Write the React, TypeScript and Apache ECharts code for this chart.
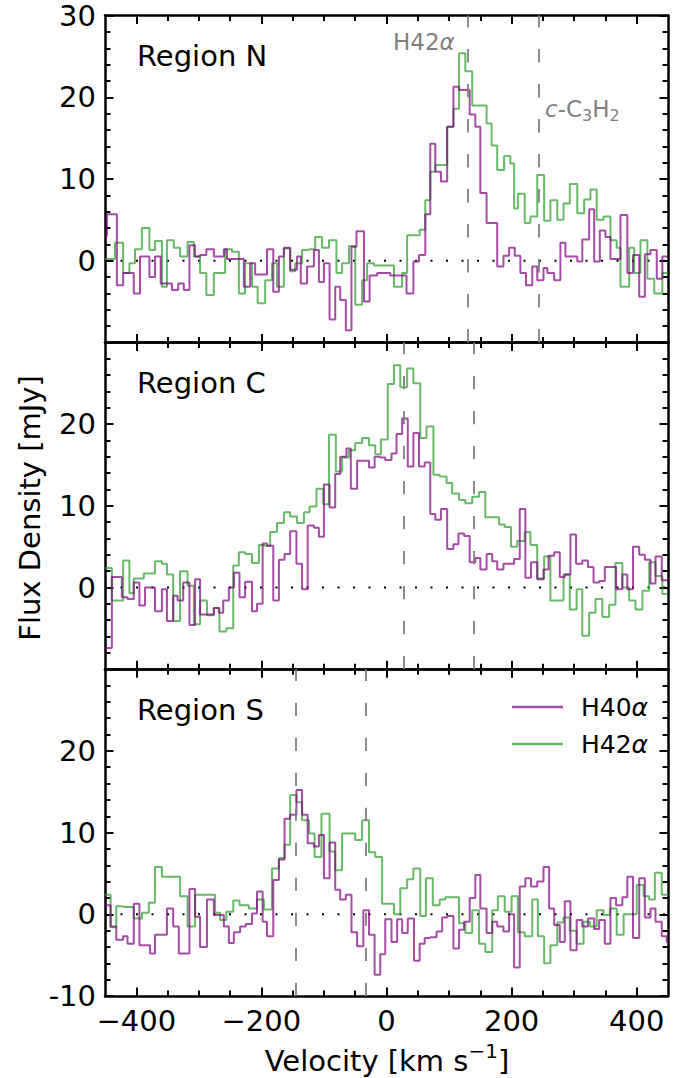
import React, { useEffect, useRef } from 'react';
import * as echarts from 'echarts';

type Pt = [number, number];

// Each pair: [velocity at the start of the channel (km/s), flux density (mJy)]
const northH40: Pt[] = [
  [-450, 3], [-447, 5.7], [-431, -3], [-421, -1.5], [-404, -4], [-394, 0.5], [-379, -2], [-370, 0.5],
  [-361, -2.8], [-343, -3.6], [-333, -2.8], [-324, -3.6], [-315, 1.9], [-306, 0.5], [-298, 0.7], [-288, 1.4],
  [-276, 0.5], [-260, 1.4], [-255, 0.2], [-228, -3.2], [-218, -0.3], [-210, -1.7], [-191, 1.4], [-181, -3.8],
  [-172, 0.5], [-164, 1.6], [-154, -1.1], [-143, 0.5], [-137, -2.8], [-127, -0.7], [-116, 1.3], [-108, -2.6],
  [-100, -0.3], [-91, -7.2], [-82, -3.2], [-74, -4.8], [-65, -8.5], [-56, 1.7], [-48, 3.6], [-36, -5],
  [-27, -1.8], [-15, -1.5], [6, -1.8], [32, -4], [43, -0.1], [52, 0.7], [62, 5.7], [70, 14.3],
  [78, 10.9], [87, 9.7], [97, 16.4], [107, 21.3], [116, 20.9], [133, 17.9], [142, 16.4], [150, 8.3],
  [160, 4.6], [177, -0.7], [187, 0.6], [196, 1.6], [205, 0.6], [214, -1.5], [223, -3], [233, -0.7],
  [241, -2.4], [251, -0.9], [257, -1.5], [268, -2.4], [278, 2.2], [286, 0.5], [305, -0.1], [313, 2.6],
  [324, 6.3], [332, -0.1], [341, 3.7], [350, 2.9], [358, 0.2], [374, 5.6], [385, -1.5], [394, 0.7],
  [404, -4.4], [413, 0.8], [422, 1.3], [432, -2.2], [441, 0.5],
];

const northH42: Pt[] = [
  [-450, 0.2], [-434, 2.2], [-421, -1.5], [-411, -0.3], [-402, 1.4], [-391, 4], [-379, 1.3], [-370, 2.4],
  [-359, -3.2], [-351, 2.5], [-340, 1.6], [-330, 0.5], [-318, 2.3], [-308, 0.5], [-298, -1.5], [-288, -4.2],
  [-276, -1.5], [-258, 1.4], [-247, 1.1], [-236, -4], [-226, -0.3], [-215, -3.2], [-206, -5.2], [-194, -2.4],
  [-183, -0.3], [-175, -3.2], [-164, 1.5], [-154, -1.3], [-146, -0.3], [-135, 1.3], [-124, 1.4], [-114, 2.9],
  [-103, 1.6], [-92, 2.5], [-80, -1.5], [-71, -0.3], [-60, 1.8], [-50, -5.4], [-39, -2.4], [-31, -0.3],
  [-20, -0.6], [12, -3.2], [25, -1.5], [33, 3.1], [53, 3.8], [62, 7.4], [70, 10.9], [78, 11.7],
  [97, 16.4], [107, 18.6], [116, 25.4], [126, 23.2], [137, 19], [160, 16.8], [168, 14.1], [177, 11.1],
  [188, 12.8], [198, 11.9], [204, 6.4], [210, 8.2], [221, 4.6], [230, 5.4], [241, 10.5], [252, 4.9],
  [262, 7.4], [273, 5], [283, 7], [293, 9.4], [305, 5.8], [316, 7.5], [326, 8.7], [336, 5],
  [347, 5.4], [358, 2.5], [368, 1.6], [374, -3.2], [388, 1.6], [396, -1.5], [406, 2.5], [417, -2.2],
  [428, -4], [441, -1.5],
];

const centralH40: Pt[] = [
  [-450, -7.4], [-439, 1.3], [-423, -1.2], [-414, -1.4], [-404, 0.6], [-395, -2.2], [-386, 0], [-370, -2.9],
  [-359, -0.2], [-351, -4.1], [-341, -1], [-334, -1.6], [-325, 0.6], [-315, -4.6], [-306, 1], [-298, -3.3],
  [-276, -2.5], [-268, -3.1], [-261, -1.6], [-252, 0], [-244, 1.8], [-235, -1.2], [-226, 0.7], [-215, -2.9],
  [-207, -2], [-198, 5.4], [-191, 5.1], [-181, -1.6], [-172, 3.4], [-163, 4.1], [-154, 6.9], [-144, 2.9],
  [-135, -0.2], [-126, 7.6], [-116, 7.3], [-108, 6.2], [-100, 12.6], [-91, 9.8], [-82, 13.9], [-74, 16],
  [-64, 17], [-57, 12.1], [-47, 15.5], [-28, 14.7], [-19, 16], [-10, 15.9], [-2, 15.6], [8, 16.4],
  [16, 18.8], [25, 20.7], [34, 14.8], [43, 18.9], [52, 14.8], [61, 15.3], [70, 9], [78, 8.3],
  [87, 9.6], [97, 4.7], [107, 5.3], [115, 6.6], [124, 6.3], [133, 3.1], [142, 3.6], [150, 2.2],
  [160, 4.1], [169, 3.2], [177, 2.2], [187, 2.9], [204, 3.5], [213, 9.6], [222, 1.2], [231, 3.1],
  [241, 1], [251, 2.2], [259, 3.9], [268, 4.3], [277, 1.3], [285, 1.6], [294, 6.5], [303, 2.9],
  [313, 3.3], [322, 2.5], [331, 0.6], [340, 0.8], [349, 2.5], [367, -0.2], [377, 1.6], [385, -0.2],
  [394, 5], [404, 4], [413, 3.4], [422, 0.5], [430, 3.8], [440, 0.9],
];

const centralH42: Pt[] = [
  [-450, 2.4], [-439, -1.6], [-421, 3.3], [-411, -0.7], [-404, 1.1], [-388, 1.7], [-370, 3.2], [-359, 2.9],
  [-351, 1.6], [-341, -4.1], [-330, 2], [-318, 0.2], [-308, -4.5], [-298, -1.6], [-287, -3.4], [-276, -2.5],
  [-267, -5.4], [-256, -5], [-245, 2.7], [-236, 4.3], [-226, 4.1], [-215, 3], [-204, 5.2], [-196, 5.1],
  [-186, 6.8], [-175, 7.9], [-164, 9.2], [-154, 8.7], [-143, 7.9], [-132, 9.2], [-123, 9.9], [-112, 12.1],
  [-101, 10.2], [-92, 18.7], [-81, 14.2], [-71, 15.9], [-60, 16.8], [-50, 17.7], [-39, 18.3], [-28, 17.4],
  [-18, 16.3], [-9, 18.1], [2, 24.9], [12, 27.2], [22, 24.5], [33, 26.8], [43, 25], [54, 18.3],
  [64, 19.7], [75, 13.8], [85, 13.6], [96, 12.8], [105, 11.5], [116, 10.7], [126, 10.3], [137, 11.1],
  [148, 11.7], [158, 8.6], [180, 7.7], [189, 7.4], [199, 5], [209, 5.7], [221, 6.8], [230, 5.2],
  [241, 1.1], [252, 3.8], [262, -1.6], [283, 1.6], [293, -2.7], [304, -0.2], [313, -5.9], [324, -3.1],
  [334, -1.4], [345, -3.6], [356, -2.1], [366, 3], [377, 0], [388, -1.6], [398, -2.7], [409, -0.4],
  [420, 3.1], [430, 1.4], [441, -0.8],
];

const southH40: Pt[] = [
  [-450, 1.1], [-441, -1.5], [-432, -3.1], [-421, -2.7], [-414, -3.6], [-404, 1.3], [-395, -3.8], [-378, -4.8],
  [-370, -2.5], [-351, 0.7], [-341, -1.5], [-332, -4.8], [-315, 3.1], [-306, -0.3], [-298, -4], [-287, 1.8],
  [-276, -0.1], [-260, -1.5], [-252, -3.5], [-244, -2.2], [-234, -1.5], [-225, -1.2], [-215, 0.1], [-207, 2.8],
  [-198, -0.9], [-191, -2.7], [-181, 4.2], [-172, 6.7], [-163, 11.7], [-154, 12.2], [-144, 15.2], [-135, 12.2],
  [-126, 8.7], [-116, 8.3], [-108, 9.7], [-100, 4.4], [-91, 8.8], [-82, 3], [-74, 1.8], [-65, 2.4],
  [-56, -2.2], [-47, -3.9], [-37, 0.5], [-28, -2.5], [-19, -7.4], [-10, -4.9], [-2, -0.6], [8, -3.4],
  [17, -0.6], [25, -2.3], [34, -0.5], [44, -5.7], [53, -3.6], [61, -2.9], [70, -2.8], [80, -2.1],
  [89, -0.4], [97, -0.2], [107, -4.2], [116, -1.9], [124, -0.9], [133, 2], [142, 4.8], [150, 0.7],
  [160, -2.3], [169, -0.9], [177, -1.5], [187, -2.1], [196, 0], [204, -6.5], [213, 3.4], [222, 4.4],
  [231, 3.4], [241, 4], [251, 5.8], [260, 0.7], [268, -1.3], [277, -3.4], [285, 1.6], [294, -4.4],
  [304, -0.7], [313, -1.5], [322, -0.5], [332, -1.8], [340, -0.7], [349, -3.6], [358, 2], [367, 1.1],
  [377, 2.1], [385, 4.6], [394, -2.9], [404, 4.4], [413, -0.4], [422, 0.7], [430, -0.9], [440, -2.7],
  [448, -3.4],
];

const southH42: Pt[] = [
  [-450, 2.4], [-441, -1.6], [-432, 1], [-421, 0.9], [-404, -0.5], [-391, 0.2], [-380, 1.4], [-370, 5.8],
  [-359, 4.6], [-330, 2.2], [-318, -1.5], [-306, 2.4], [-274, 0.2], [-266, -0.7], [-256, 0.3], [-245, 1.7],
  [-235, 1.1], [-220, 0.7], [-207, 1.8], [-196, 0.6], [-183, 5.6], [-172, 6.9], [-163, 8.5], [-154, 14.6],
  [-144, 13.7], [-135, 11.5], [-124, 9.9], [-115, 7], [-104, 12.3], [-91, 7.7], [-82, 5.4], [-71, 9.9],
  [-50, 9.1], [-39, 11.5], [-28, 7.6], [-18, 7], [-7, 1.3], [12, 0], [22, 3.2], [33, 4.3],
  [43, 5.6], [54, -0.2], [63, 4.4], [74, 1.1], [85, 1.8], [94, 2.1], [116, -1.1], [126, -2.3],
  [137, 0.5], [148, -3.6], [158, -4.6], [169, 0.5], [178, 2.2], [189, 0.3], [200, 2.2], [210, -2.2],
  [221, -2.7], [233, 1.8], [242, -2.7], [252, -6], [262, -3.8], [273, -1], [283, -0.4], [293, -2],
  [304, -3.6], [315, -0.9], [325, -1.5], [336, 0.5], [347, -0.1], [357, 0.7], [368, -2.5], [379, 0],
  [400, 3.6], [411, 2.2], [420, 1.8], [429, 5.1], [440, 2.4],
];

// dashed reference lines (km/s) per panel
const northMarks = [130, 243];
const centralMarks = [27, 139];
const southMarks = [-145, -33];

const xMajorTicks = [-400, -200, 0, 200, 400];
const xMinorTicks = [-350, -300, -250, -150, -100, -50, 50, 100, 150, 250, 300, 350];
const yLabelsN = [0, 10, 20, 30];
const yLabelsC = [0, 10, 20];
const yLabelsS = [-10, 0, 10, 20];

const X_MIN = -450;
const X_MAX = 450;
const FONT = 'DejaVu Sans';
const PURPLE = 'rgba(128, 0, 128, 0.7)';
const GREEN = 'rgba(44, 160, 44, 0.72)';
const GRAY = '#808080';
const TICK_COLOR = '#000';

const panels = [
  { name: 'Region N', h40: northH40, h42: northH42, marks: northMarks, yLabels: yLabelsN, labelY: 56 },
  { name: 'Region C', h40: centralH40, h42: centralH42, marks: centralMarks, yLabels: yLabelsC, labelY: 383 },
  { name: 'Region S', h40: southH40, h42: southH42, marks: southMarks, yLabels: yLabelsS, labelY: 710 },
];

const GRID_LEFT = 105;
const GRID_WIDTH = 563;
const GRID_TOP = 15.6;
const PANEL_H = 326.8;
const MAJOR_LEN = 8.5;
const MINOR_LEN = 5.5;

// hold the last channel value up to the right edge
const closeSteps = (d: Pt[]): Pt[] => [...d, [X_MAX, d[d.length - 1][1]]];

// fresh objects for every axis, ECharts merges defaults into them
const frameLine = () => ({ show: true, onZero: false, lineStyle: { color: '#000', width: 2.5 } });
const noLine = () => ({ show: false, onZero: false });
const tickStyle = () => ({ color: TICK_COLOR, width: 2 });
const xTick = (values: number[], length: number) => ({
  show: true,
  inside: true,
  length,
  customValues: values,
  lineStyle: tickStyle(),
});

const buildOption = (): echarts.EChartsOption => {
  const grid = panels.map((_, i) => ({
    left: GRID_LEFT,
    width: GRID_WIDTH,
    top: GRID_TOP + i * PANEL_H,
    height: PANEL_H,
  }));

  const xCommon = (i: number) => ({
    type: 'value' as const,
    gridIndex: i,
    min: X_MIN,
    max: X_MAX,
    splitLine: { show: false },
  });

  const xAxis = panels.flatMap((_, i) => [
    {
      ...xCommon(i),
      position: 'bottom',
      axisLine: frameLine(),
      axisTick: xTick(xMajorTicks, MAJOR_LEN),
      axisLabel: i === 2
        ? {
            show: true,
            customValues: xMajorTicks,
            margin: 10,
            fontSize: 29,
            fontFamily: FONT,
            color: '#000',
            formatter: (v: number) => (v < 0 ? '\u2212' + Math.abs(v) : String(v)),
          }
        : { show: false },
    },
    { ...xCommon(i), position: 'bottom', axisLine: noLine(), axisTick: xTick(xMinorTicks, MINOR_LEN), axisLabel: { show: false } },
    { ...xCommon(i), position: 'top', axisLine: frameLine(), axisTick: xTick(xMajorTicks, MAJOR_LEN), axisLabel: { show: false } },
    { ...xCommon(i), position: 'top', axisLine: noLine(), axisTick: xTick(xMinorTicks, MINOR_LEN), axisLabel: { show: false } },
  ]);

  const yAxis = panels.flatMap((p, i) => {
    const common = () => ({
      type: 'value' as const,
      gridIndex: i,
      min: -10,
      max: 30,
      interval: 10,
      axisLine: frameLine(),
      axisTick: { show: true, inside: true, length: MAJOR_LEN, lineStyle: tickStyle() },
      minorTick: { show: true, splitNumber: 5, length: MINOR_LEN, lineStyle: tickStyle() },
      splitLine: { show: false },
      minorSplitLine: { show: false },
    });
    return [
      {
        ...common(),
        position: 'left',
        axisLabel: {
          show: true,
          showMinLabel: true,
          showMaxLabel: true,
          margin: 9,
          fontSize: 29,
          fontFamily: FONT,
          color: '#000',
          formatter: (v: number) => (p.yLabels.includes(v) ? String(v) : ''),
        },
      },
      { ...common(), position: 'right', axisLabel: { show: false } },
    ];
  });

  const series = panels.flatMap((p, i) => [
    {
      type: 'line',
      xAxisIndex: i * 4,
      yAxisIndex: i * 2,
      data: [[X_MIN, 0], [X_MAX, 0]],
      symbol: 'none',
      silent: true,
      z: 1,
      lineStyle: { color: '#000', width: 2, type: [2, 13.5] },
      markLine: {
        silent: true,
        symbol: ['none', 'none'],
        label: { show: false },
        lineStyle: { color: GRAY, width: 1.8, type: [13.3, 21.7] },
        emphasis: { disabled: true },
        data: p.marks.map((v) => ({ xAxis: v })),
      },
    },
    {
      name: 'H40α',
      type: 'line',
      step: 'end',
      xAxisIndex: i * 4,
      yAxisIndex: i * 2,
      data: closeSteps(p.h40),
      symbol: 'none',
      color: PURPLE,
      lineStyle: { color: PURPLE, width: 2 },
      emphasis: { disabled: true },
      z: 3,
    },
    {
      name: 'H42α',
      type: 'line',
      step: 'end',
      xAxisIndex: i * 4,
      yAxisIndex: i * 2,
      data: closeSteps(p.h42),
      symbol: 'none',
      color: GREEN,
      lineStyle: { color: GREEN, width: 2 },
      emphasis: { disabled: true },
      z: 2,
    },
  ]);

  const textFont = (size: number, italic = false) => `${italic ? 'italic ' : ''}${size}px "${FONT}"`;

  const graphic = [
    ...panels.map((p) => ({
      type: 'text',
      x: 137,
      y: p.labelY,
      style: { text: p.name, font: textFont(29), fill: '#000', verticalAlign: 'middle', textVerticalAlign: 'middle' },
    })),
    {
      type: 'text',
      x: 393,
      y: 41.5,
      style: {
        text: 'H42{i|α}',
        font: textFont(23),
        fill: GRAY,
        verticalAlign: 'middle',
        textVerticalAlign: 'middle',
        rich: { i: { font: textFont(23, true), fill: GRAY } },
      },
    },
    {
      type: 'text',
      x: 545,
      y: 108.5,
      style: {
        text: '{i|c}-C{s|3}H{s|2}',
        font: textFont(23),
        lineHeight: 29,
        fill: GRAY,
        verticalAlign: 'middle',
        textVerticalAlign: 'middle',
        rich: {
          i: { font: textFont(23, true), fill: GRAY, lineHeight: 29 },
          s: { font: textFont(16), fill: GRAY, verticalAlign: 'bottom' },
        },
      },
    },
    {
      type: 'text',
      x: 387,
      y: 1061,
      style: {
        text: 'Velocity [km s{sup|\u22121}]',
        font: textFont(29),
        lineHeight: 40,
        fill: '#000',
        align: 'center',
        textAlign: 'center',
        verticalAlign: 'middle',
        textVerticalAlign: 'middle',
        rich: { sup: { font: textFont(20), fill: '#000', verticalAlign: 'top' } },
      },
    },
    {
      type: 'text',
      x: 30,
      y: 508,
      rotation: Math.PI / 2,
      style: {
        text: 'Flux Density [mJy]',
        font: textFont(29),
        fill: '#000',
        align: 'center',
        textAlign: 'center',
        verticalAlign: 'middle',
        textVerticalAlign: 'middle',
      },
    },
  ];

  return {
    animation: false,
    backgroundColor: '#fff',
    textStyle: { fontFamily: FONT },
    grid,
    xAxis,
    yAxis,
    series,
    graphic,
    legend: {
      data: ['H40α', 'H42α'],
      orient: 'vertical',
      left: 507,
      top: 689.5,
      itemWidth: 51,
      itemHeight: 2.5,
      itemGap: 12,
      icon: 'rect',
      selectedMode: false,
      formatter: (name: string) => name.replace('α', '{i|α}'),
      textStyle: {
        fontSize: 25,
        lineHeight: 25,
        fontFamily: FONT,
        color: '#000',
        padding: [0, 0, 0, 13],
        rich: { i: { fontSize: 25, lineHeight: 25, fontFamily: FONT, fontStyle: 'italic', color: '#000' } },
      },
    },
  } as echarts.EChartsOption;
};

const App: React.FC = () => {
  const chartRef = useRef<HTMLDivElement>(null);

  useEffect(() => {
    if (!chartRef.current) return;
    const chart = echarts.init(chartRef.current, null, { renderer: 'svg' });
    chart.setOption(buildOption());
    return () => {
      chart.dispose();
    };
  }, []);

  return (
    <div
      ref={chartRef}
      style={{ position: 'absolute', left: 0, top: 0, width: 690, height: 1078, background: '#fff' }}
    />
  );
};

export default App;
